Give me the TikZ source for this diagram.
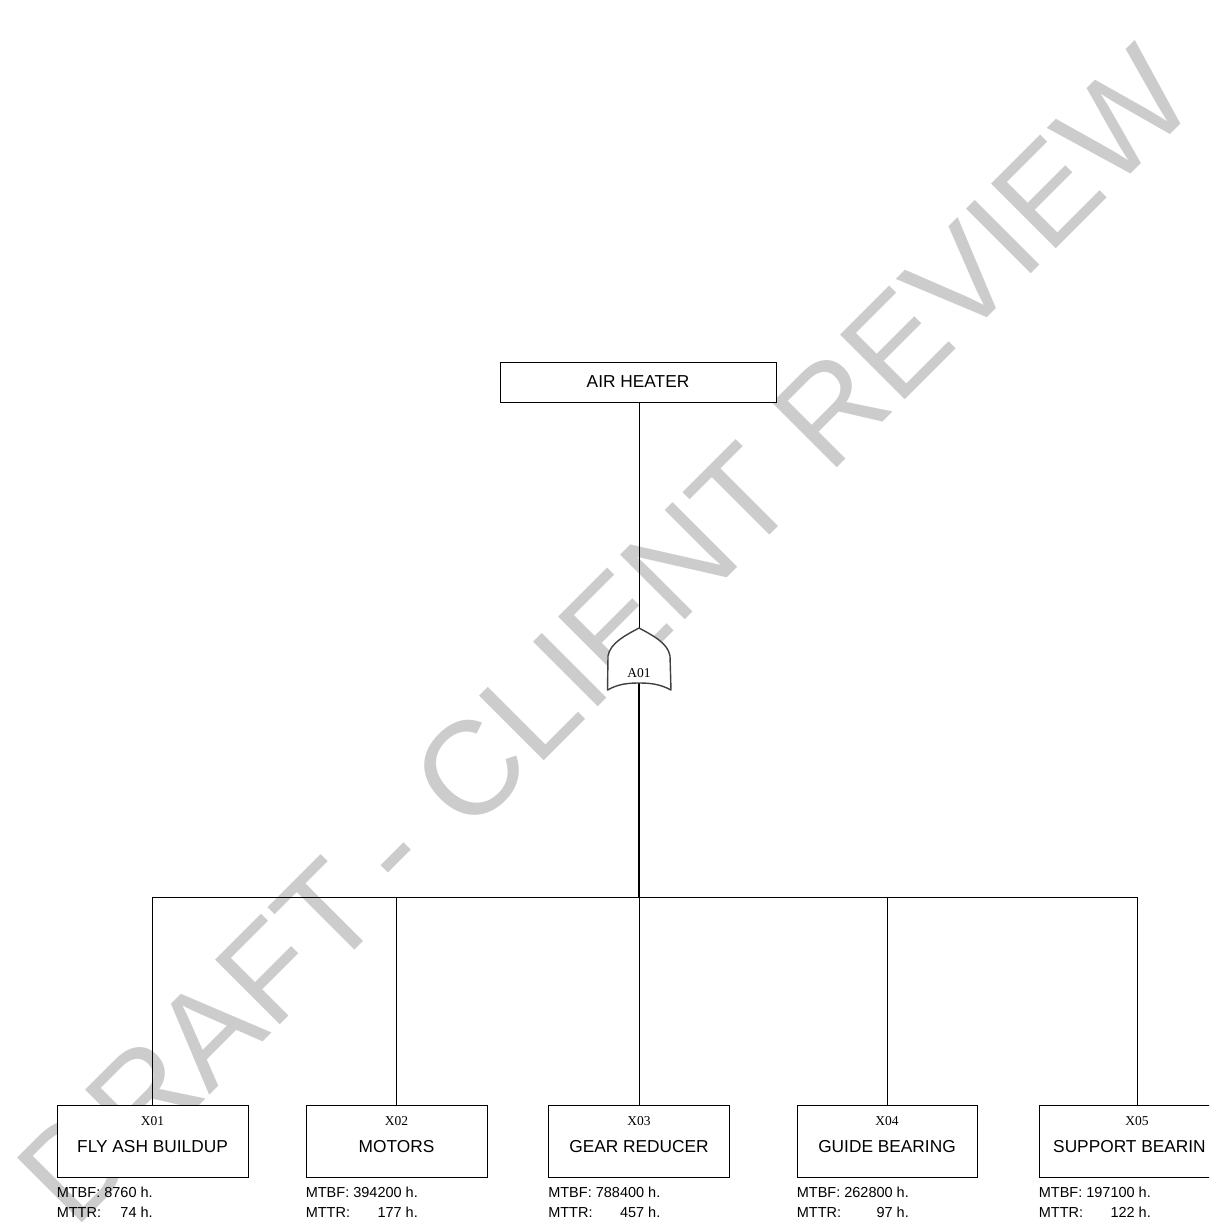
\documentclass[tikz,border=0pt]{standalone}
\usepackage{fontspec}
\setmainfont{Liberation Sans}
\newfontfamily\serifid{Liberation Serif}
\newcommand\ftevent[8]{% name, cx, width, id, label, mtbf, mttr, label anchor opts
  \node[evbox, minimum width=#3] (#1) at (#2,1141) {};
  \node[idlab] (#1id) at ([yshift=-16pt]#1.north) {#4};
  \node[evlab,#8] (#1lab) at ([yshift=-42pt]#1.north) {#5};
  \node[rel, anchor=base west] (#1bf) at ([yshift=-20.5pt]#1.south west) {MTBF: #6 h.};
  \node[rel, anchor=base west] (#1tr) at ([yshift=-40.5pt]#1.south west) {MTTR:};
  \node[rel, anchor=base east] (#1trv) at (#1bf.base east |- #1tr.base) {#7 h.};
}
\begin{document}
\begin{tikzpicture}[x=1pt,y=-1pt,
  evbox/.style={draw=black, fill=white, line width=0.8pt, minimum height=72pt, inner sep=0pt},
  topbox/.style={draw=black, fill=white, line width=0.8pt, minimum width=276pt, minimum height=40pt, inner sep=0pt, font=\fontsize{17.3}{20}\selectfont},
  idlab/.style={inner sep=0pt, font=\serifid\fontsize{13.5}{16}\selectfont},
  evlab/.style={inner sep=0pt, font=\fontsize{17.3}{20}\selectfont},
  rel/.style={inner sep=0pt, font=\fontsize{14.5}{17}\selectfont},
  gateshape/.style={draw=black!75, line width=1.4pt, fill=white, line join=round},
  conn/.style={draw=black, line width=0.8pt},
  wm/.style={inner sep=0pt, text=gray!40, rotate=45, anchor=base west, font=\fontsize{133}{140}\selectfont}
]
\useasboundingbox (0,0) rectangle (1209,1225);
\fill[white] (0,0) rectangle (1209,1225);
\clip (0,0) rectangle (1209,1225);

% watermark
\node[wm] (wm1) at (74,1231) {DRAFT};
\node[wm] (wm2) at (405,899) {-};
\node[wm] (wm3) at (468.7,836.3) {CLIENT};
\node[wm] (wm4) at (829.3,475.7) {REVIEW};

% top event
\node[topbox] (top) at (638,382) {AIR HEATER};

% gate coordinates
\coordinate (gtop) at (639,628);
\coordinate (gbot) at (639,683);
\coordinate (bus) at (639,897);

% basic events
\ftevent{x1}{152.5}{191pt}{X01}{FLY ASH BUILDUP}{8760}{74}{}
\ftevent{x2}{396.5}{181pt}{X02}{MOTORS}{394200}{177}{}
\ftevent{x3}{639}{181pt}{X03}{GEAR REDUCER}{788400}{457}{}
\ftevent{x4}{887}{180pt}{X04}{GUIDE BEARING}{262800}{97}{}
\ftevent{x5}{1137}{196pt}{X05}{SUPPORT BEARIN}{197100}{122}{anchor=west, xshift=-84pt}

% connectors
\draw[conn] (top.south -| gtop) -- (gtop);
\draw[conn, line width=1.6pt] (gbot) -- (bus);
\draw[conn] (bus) -| (x1.north);
\draw[conn] (bus) -| (x2.north);
\draw[conn] (bus) -- (x3.north);
\draw[conn] (bus) -| (x4.north);
\draw[conn] (bus) -| (x5.north);

% OR gate
\path[gateshape] (607.5,690) -- (608,656)
  .. controls (610,643) and (626,635) .. (gtop)
  .. controls (652,635) and (668,643) .. (670,656)
  -- (671,690)
  .. controls (660,684) and (650,683) .. (gbot)
  .. controls (628,683) and (618,684) .. (607.5,690) -- cycle;
\node[idlab] (a01) at (639,673.5) {A01};
\end{tikzpicture}
\end{document}
